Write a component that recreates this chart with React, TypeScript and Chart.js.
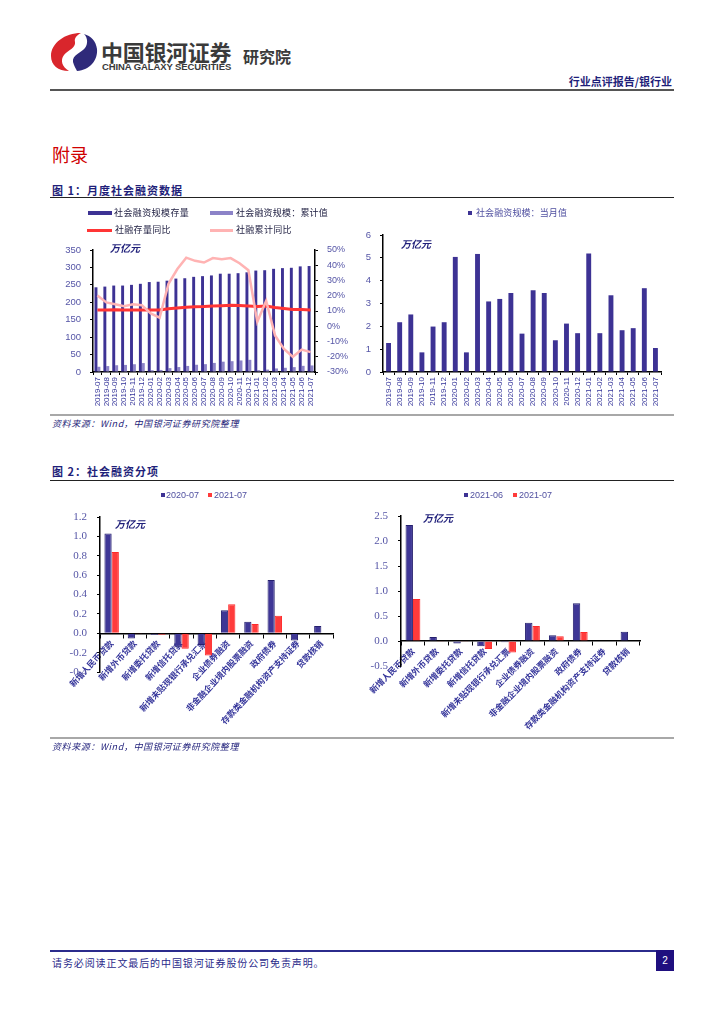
import React, { useEffect, useRef } from "react";
import { Chart, registerables } from "chart.js";
Chart.register(...registerables);

// ---------- DATA ----------
const months = [
  "2019-07", "2019-08", "2019-09", "2019-10", "2019-11", "2019-12",
  "2020-01", "2020-02", "2020-03", "2020-04", "2020-05", "2020-06",
  "2020-07", "2020-08", "2020-09", "2020-10", "2020-11", "2020-12",
  "2021-01", "2021-02", "2021-03", "2021-04", "2021-05", "2021-06", "2021-07",
];
const stockValue = [243, 245, 248, 248, 250, 253, 258, 259, 262, 268, 269, 273, 275, 277, 282, 282, 283.5, 286, 291, 292, 296, 298, 299, 303, 304];
const cumulativeValue = [15, 17, 19.4, 20.3, 22.3, 25.6, 5.1, 5.9, 11.1, 14.2, 17.4, 20.8, 22.5, 26.1, 29.6, 31.0, 33.1, 34.9, 5.2, 6.9, 10.2, 12.1, 14.0, 17.7, 18.8];
const stockYoY = [10.7, 10.7, 10.8, 10.7, 10.7, 10.7, 10.7, 10.7, 11.5, 12.0, 12.5, 12.8, 12.9, 13.3, 13.5, 13.7, 13.6, 13.3, 13.0, 13.3, 12.3, 11.7, 11.0, 11.0, 10.7];
const cumulativeYoY = [20.2, 15.6, 14.4, 13.1, 14.4, 13.8, 8.4, 5.6, 27.8, 37.5, 45, 42.9, 41.8, 44.7, 44, 44.7, 41.3, 36.7, 2.9, 16.7, -6, -14.9, -20, -15.3, -17];
const monthlyValue = [1.27, 2.18, 2.52, 0.86, 1.99, 2.18, 5.04, 0.86, 5.17, 3.09, 3.2, 3.46, 1.68, 3.58, 3.46, 1.39, 2.12, 1.70, 5.19, 1.70, 3.36, 1.83, 1.92, 3.67, 1.05];

const items = [
  "新增人民币贷款", "新增外币贷款", "新增委托贷款", "新增信托贷款", "新增未贴现银行承兑汇票",
  "企业债券融资", "非金融企业境内股票融资", "政府债券", "存款类金融机构资产支持证券", "贷款核销",
];
const jul2020 = [1.03, -0.055, -0.015, -0.14, -0.12, 0.237, 0.12, 0.55, -0.075, 0.075];
const jun2021 = [2.32, 0.08, -0.05, -0.107, -0.027, 0.367, 0.113, 0.753, 0, 0.187];
const jul2021 = [0.84, -0.007, -0.015, -0.16, -0.23, 0.30, 0.095, 0.18, 0, 0];

const leftTicks1 = { min: 0, max: 350, step: 50 };
const rightTicks1 = { min: -30, max: 50, step: 10 };
const ticks2 = { min: 0, max: 6, step: 1 };
const ticks3 = { min: -0.4, max: 1.2, step: 0.2 };
const ticks4 = { min: -0.5, max: 2.5, step: 0.5 };

// ---------- STYLE ----------
const NAVY = "#3d3294";
const LIGHT = "#8c83c8";
const RED = "#ff3535";
const PINK = "#ffb3b3";
const TICK = "#5555a6";
const TEXTNAVY = "#1f1f7a";
const CJK = '"Noto Sans CJK SC", sans-serif';

function ChartCanvas({ config, left, top, width, height }: any) {
  const ref = useRef<HTMLCanvasElement | null>(null);
  useEffect(() => {
    const chart = new Chart(ref.current as HTMLCanvasElement, config);
    return () => chart.destroy();
  }, []);
  return (
    <canvas
      ref={ref}
      width={width}
      height={height}
      style={{ position: "absolute", left, top, width, height }}
    />
  );
}

const axisLine = { color: "#000", width: 1.5 };
const outerGrid = (len: number) => ({ drawOnChartArea: false, drawTicks: true, tickLength: len, color: "#000" });

const config1: any = {
  type: "bar",
  data: {
    labels: months,
    datasets: [
      { type: "line", label: "社融累计同比", data: cumulativeYoY, borderColor: PINK, borderWidth: 2.5, pointRadius: 0, yAxisID: "y1", order: 0 },
      { type: "line", label: "社融存量同比", data: stockYoY, borderColor: RED, borderWidth: 3, pointRadius: 0, yAxisID: "y1", order: 1 },
      { type: "bar", label: "社会融资规模存量", data: stockValue, backgroundColor: NAVY, yAxisID: "y", order: 2, barPercentage: 1, categoryPercentage: 0.66 },
      { type: "bar", label: "社会融资规模：累计值", data: cumulativeValue, backgroundColor: LIGHT, yAxisID: "y", order: 2, barPercentage: 1, categoryPercentage: 0.66 },
    ],
  },
  options: {
    animation: false,
    responsive: false,
    layout: { padding: { top: 50, left: 0, right: 0, bottom: 0 } },
    plugins: { legend: { display: false }, tooltip: { enabled: false } },
    scales: {
      x: {
        grid: { ...outerGrid(3), offset: true },
        border: axisLine,
        ticks: { minRotation: 90, maxRotation: 90, autoSkip: false, padding: 2, color: "#333399", font: { size: 8, family: "Liberation Sans" } },
        afterFit: (s: any) => { s.height = 40; },
      },
      y: {
        position: "left",
        min: leftTicks1.min, max: leftTicks1.max,
        grid: outerGrid(3),
        border: axisLine,
        ticks: { stepSize: leftTicks1.step, padding: 9, color: TICK, font: { size: 9.5, family: "Liberation Sans" } },
        afterFit: (s: any) => { s.width = 43; },
      },
      y1: {
        position: "right",
        min: rightTicks1.min, max: rightTicks1.max,
        grid: outerGrid(3),
        border: axisLine,
        ticks: { stepSize: rightTicks1.step, padding: 9, color: TICK, font: { size: 9, family: "Liberation Sans" }, callback: (v: any) => v + "%" },
        afterFit: (s: any) => { s.width = 37; },
      },
    },
  },
};

const config2: any = {
  type: "bar",
  data: {
    labels: months,
    datasets: [
      { label: "社会融资规模：当月值", data: monthlyValue, backgroundColor: NAVY, barPercentage: 0.44, categoryPercentage: 1 },
    ],
  },
  options: {
    animation: false,
    responsive: false,
    layout: { padding: { top: 35, left: 0, right: 13, bottom: 0 } },
    plugins: { legend: { display: false }, tooltip: { enabled: false } },
    scales: {
      x: {
        grid: { ...outerGrid(3), offset: true },
        border: axisLine,
        ticks: { minRotation: 90, maxRotation: 90, autoSkip: false, padding: 2, color: "#333399", font: { size: 8, family: "Liberation Sans" } },
        afterFit: (s: any) => { s.height = 40; },
      },
      y: {
        min: ticks2.min, max: ticks2.max,
        grid: outerGrid(3),
        border: axisLine,
        ticks: { stepSize: ticks2.step, padding: 9, color: TICK, font: { size: 9.5, family: "Liberation Sans" } },
        afterFit: (s: any) => { s.width = 28; },
      },
    },
  },
};

function itemConfig(seriesA: number[], labelA: string, seriesB: number[], labelB: string, t: any, pad: any, yWidth: number, rot: number): any {
  return {
    type: "bar",
    data: {
      labels: items,
      datasets: [
        { label: labelA, data: seriesA, backgroundColor: "#3f3796", borderColor: "#25206e", borderWidth: 1, barPercentage: 1, categoryPercentage: 0.62 },
        { label: labelB, data: seriesB, backgroundColor: "#ff3b3b", borderColor: "#ff2a2a", borderWidth: 1, barPercentage: 1, categoryPercentage: 0.62 },
      ],
    },
    options: {
      animation: false,
      responsive: false,
      layout: { padding: pad },
      plugins: { legend: { display: false }, tooltip: { enabled: false } },
      scales: {
        x: {
          position: { y: 0 },
          grid: { ...outerGrid(4), offset: true },
          border: axisLine,
          ticks: { minRotation: rot, maxRotation: rot, autoSkip: false, padding: 1, color: "#34349a", font: { size: 8.5, weight: "bold", family: CJK } },
        },
        y: {
          min: t.min, max: t.max,
          grid: outerGrid(3),
          border: axisLine,
          ticks: { stepSize: t.step, padding: 10, color: TICK, font: { size: 11, family: "Liberation Serif" }, callback: (v: any) => Number(v).toFixed(1) },
          afterFit: (s: any) => { s.width = yWidth; },
        },
      },
    },
  };
}

const config3 = itemConfig(jul2020, "2020-07", jul2021, "2021-07", ticks3, { top: 34, right: 22, bottom: 66, left: 0 }, 50, 47);
const config4 = itemConfig(jun2021, "2021-06", jul2021, "2021-07", ticks4, { top: 33, right: 34, bottom: 72, left: 0 }, 41, 45);

// ---------- PAGE ----------
const abs = (s: any): any => ({ position: "absolute", whiteSpace: "nowrap", ...s });

function Txt({ x, y, size, children, style, right }: any) {
  const lh = Math.round(size * 1.3);
  const pos = right !== undefined ? { right } : { left: x };
  return (
    <div style={abs({ ...pos, top: y - lh / 2, fontSize: size, lineHeight: lh + "px", fontFamily: CJK, ...style })}>{children}</div>
  );
}

function Swatch({ x, y, w, h, color }: any) {
  return <div style={abs({ left: x, top: y - h / 2, width: w, height: h, background: color })} />;
}

export default function App() {
  return (
    <div style={abs({ left: 0, top: 0, width: 724, height: 1024, background: "#fff", overflow: "hidden" })}>
      {/* logo */}
      <svg style={abs({ left: 50, top: 32 })} width={48} height={40} viewBox="0 0 48 40">
        <path d="M31 1 C15 1 1 11 1 24 C1 33 8 39 19 39 C12 35 10 28 14 23 C18 18 26 16 25 10 C24 6 27 3 31 1 Z" fill="#d9262c" />
        <path d="M27 39 C40 38 48 28 47 17 C46 9 41 4 34 2 C38 6 38 12 35 16 C31 21 22 23 23 30 C24 34 26 37 27 39 Z" fill="#2f2a7a" />
      </svg>
      <Txt x={101} y={51} size={22} style={{ fontWeight: 700, color: "#3a3a3a", letterSpacing: -0.3 }}>中国银河证券</Txt>
      <div style={abs({ left: 102, top: 62, fontSize: 9.5, lineHeight: "10px", fontFamily: "Liberation Sans", fontWeight: 700, color: "#3a3a3a", letterSpacing: -0.1 })}>CHINA GALAXY SECURITIES</div>
      <Txt x={243} y={56} size={16} style={{ fontWeight: 700, color: "#3a3a3a" }}>研究院</Txt>
      <Txt right={52} y={80.5} size={11} style={{ fontWeight: 700, color: TEXTNAVY }}>行业点评报告/银行业</Txt>
      <div style={abs({ left: 50, top: 89, width: 624, height: 2, background: "#555" })} />

      <Txt x={52} y={154} size={18} style={{ color: "#d00000" }}>附录</Txt>

      {/* figure 1 */}
      <Txt x={52} y={190} size={11} style={{ fontWeight: 700, color: TEXTNAVY, letterSpacing: 1 }}>图 1：月度社会融资数据</Txt>
      <div style={abs({ left: 50, top: 197, width: 624, height: 1, background: "#222" })} />

      <ChartCanvas config={config1} left={50} top={200} width={302} height={212} />
      <ChartCanvas config={config2} left={355} top={200} width={319} height={212} />

      {/* chart 1 legend */}
      <Swatch x={88} y={213} w={24} h={4} color={NAVY} />
      <Txt x={114} y={213} size={9} style={{ color: "#222244", letterSpacing: 0.4 }}>社会融资规模存量</Txt>
      <Swatch x={210} y={213} w={23} h={4} color={LIGHT} />
      <Txt x={236} y={213} size={9} style={{ color: "#222244", letterSpacing: 0.2 }}>社会融资规模：累计值</Txt>
      <Swatch x={87} y={230} w={25} h={3} color={RED} />
      <Txt x={115} y={230} size={9} style={{ color: "#222244", letterSpacing: 0.3 }}>社融存量同比</Txt>
      <Swatch x={210} y={230} w={23} h={3} color={PINK} />
      <Txt x={236} y={230} size={9} style={{ color: "#222244", letterSpacing: 0.3 }}>社融累计同比</Txt>
      <Txt x={110} y={247} size={10} style={{ fontWeight: 700, fontStyle: "italic", color: TEXTNAVY }}>万亿元</Txt>

      {/* chart 2 legend */}
      <Swatch x={468} y={213} w={4} h={4} color={NAVY} />
      <Txt x={476} y={213} size={9} style={{ color: "#5050a0", letterSpacing: 0.1 }}>社会融资规模：当月值</Txt>
      <Txt x={401} y={243} size={10} style={{ fontWeight: 700, fontStyle: "italic", color: TEXTNAVY }}>万亿元</Txt>

      <div style={abs({ left: 50, top: 414, width: 624, height: 2, background: "#a8a8a8" })} />
      <Txt x={52} y={424} size={9} style={{ fontStyle: "italic", color: TEXTNAVY, letterSpacing: 0.6 }}>资料来源：Wind，中国银河证券研究院整理</Txt>

      {/* figure 2 */}
      <Txt x={52} y={471} size={11} style={{ fontWeight: 700, color: TEXTNAVY, letterSpacing: 1 }}>图 2：社会融资分项</Txt>
      <div style={abs({ left: 50, top: 480, width: 624, height: 1, background: "#222" })} />

      <ChartCanvas config={config3} left={50} top={483} width={305} height={255} />
      <ChartCanvas config={config4} left={360} top={483} width={314} height={255} />

      <Swatch x={161} y={495} w={4} h={4} color={NAVY} />
      <Txt x={166} y={495} size={9} style={{ color: "#5050a0", fontFamily: "Liberation Sans" }}>2020-07</Txt>
      <Swatch x={208} y={495} w={4} h={4} color="#ff3b3b" />
      <Txt x={214} y={495} size={9} style={{ color: "#5050a0", fontFamily: "Liberation Sans" }}>2021-07</Txt>
      <Txt x={115} y={523} size={10} style={{ fontWeight: 700, fontStyle: "italic", color: TEXTNAVY }}>万亿元</Txt>

      <Swatch x={463.5} y={495} w={4} h={4} color={NAVY} />
      <Txt x={470} y={495} size={9} style={{ color: "#5050a0", fontFamily: "Liberation Sans" }}>2021-06</Txt>
      <Swatch x={513} y={495} w={4} h={4} color="#ff3b3b" />
      <Txt x={519} y={495} size={9} style={{ color: "#5050a0", fontFamily: "Liberation Sans" }}>2021-07</Txt>
      <Txt x={423} y={517} size={10} style={{ fontWeight: 700, fontStyle: "italic", color: TEXTNAVY }}>万亿元</Txt>

      <div style={abs({ left: 50, top: 737, width: 624, height: 2, background: "#a8a8a8" })} />
      <Txt x={52} y={747} size={9} style={{ fontStyle: "italic", color: TEXTNAVY, letterSpacing: 0.6 }}>资料来源：Wind，中国银河证券研究院整理</Txt>

      {/* footer */}
      <div style={abs({ left: 50, top: 950, width: 606, height: 2, background: "#2b2b8c" })} />
      <div style={abs({ left: 656, top: 950, width: 18, height: 21, background: "#1f0f7f", color: "#fff", fontSize: 10, lineHeight: "21px", textAlign: "center", fontFamily: "Liberation Sans" })}>2</div>
      <Txt x={52} y={962} size={10} style={{ color: "#2a2a8a", letterSpacing: 0.9 }}>请务必阅读正文最后的中国银河证券股份公司免责声明。</Txt>
    </div>
  );
}
